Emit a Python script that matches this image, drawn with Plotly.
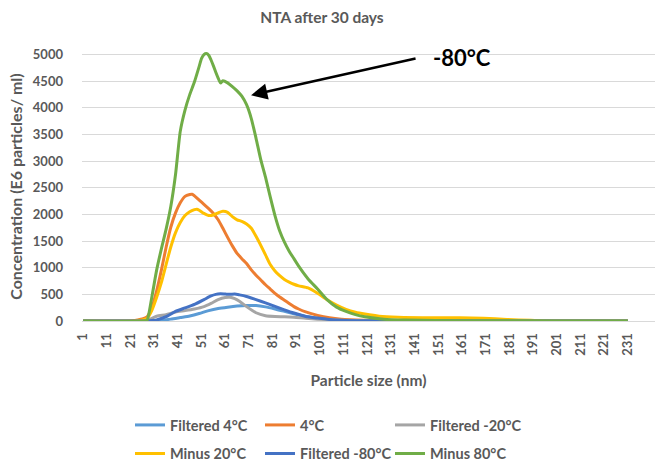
import plotly.graph_objects as go

# ---- data ----
x_tick_vals = list(range(1, 232, 10))
x_tick_text = [str(v) for v in x_tick_vals]

names = ["Filtered 4°C", "4°C", "Filtered -20°C", "Minus 20°C", "Filtered -80°C", "Minus 80°C"]
colors = ["#5B9BD5", "#ED7D31", "#A5A5A5", "#FFC000", "#4472C4", "#70AD47"]

filt4_x = [1, 27, 30, 34, 38, 42, 46, 50, 54, 58, 62, 66, 70, 74, 78, 82, 86, 90, 95, 100, 105, 110, 120, 231]
filt4_y = [0, 0, 5, 15, 35, 65, 95, 140, 195, 235, 260, 280, 290, 290, 265, 225, 180, 135, 85, 55, 35, 20, 8, 0]

c4_x = [1, 20, 22, 24, 26, 28, 30, 32, 34, 36, 38, 40, 42, 44, 46, 47, 48, 50, 52, 54, 56, 58, 60, 62, 64, 66,
        68, 70, 72, 74, 76, 78, 80, 82, 84, 86, 88, 90, 92, 95, 100, 105, 110, 120, 130, 150, 231]
c4_y = [0, 0, 5, 20, 40, 80, 250, 560, 950, 1380, 1760, 2030, 2220, 2340, 2375, 2380, 2350, 2270, 2190, 2110,
        2020, 1900, 1740, 1570, 1410, 1270, 1170, 1080, 960, 860, 770, 680, 600, 520, 450, 390, 330, 270, 225,
        170, 105, 60, 35, 15, 5, 2, 0]

filt20_x = [1, 27, 29, 32, 36, 40, 44, 48, 52, 55, 58, 61, 63, 65, 67, 70, 74, 78, 82, 86, 90, 95, 100, 110, 120, 231]
filt20_y = [0, 0, 30, 90, 120, 170, 195, 225, 270, 330, 400, 440, 445, 420, 370, 270, 155, 100, 85, 80, 70, 50, 35,
            15, 5, 0]

m20_x = [1, 22, 24, 26, 28, 30, 32, 34, 36, 38, 40, 42, 44, 46, 48, 49, 50, 52, 54, 56, 58, 60, 62, 64, 66, 68,
         70, 72, 74, 76, 78, 80, 82, 84, 86, 88, 90, 92, 96, 100, 104, 108, 112, 116, 120, 126, 134, 150, 160,
         170, 180, 190, 197, 231]
m20_y = [0, 0, 10, 20, 50, 200, 440, 720, 1060, 1390, 1660, 1850, 1980, 2050, 2090, 2100, 2080, 2020, 1980, 1990,
         2030, 2060, 2040, 1960, 1900, 1870, 1820, 1740, 1590, 1420, 1240, 1060, 940, 850, 780, 730, 690, 660,
         620, 520, 400, 300, 220, 165, 130, 90, 70, 60, 60, 50, 30, 12, 0, 0]

filt80_x = [1, 27, 29, 32, 36, 40, 44, 48, 52, 55, 57, 59, 61, 63, 65, 67, 70, 74, 78, 82, 86, 90, 95, 100, 105,
            110, 120, 231]
filt80_y = [0, 0, 5, 20, 80, 180, 245, 310, 400, 470, 500, 510, 505, 500, 505, 490, 460, 400, 340, 275, 210, 150,
            85, 55, 30, 15, 5, 0]

m80_x = [1, 27, 28, 30, 32, 34, 36, 38, 40, 42, 44, 46, 48, 50, 51, 52, 53, 54, 55, 56, 57, 58, 59, 60, 62, 64,
         66, 68, 70, 72, 74, 76, 78, 80, 82, 84, 86, 88, 90, 92, 96, 100, 104, 108, 112, 116, 120, 128, 137, 150,
         170, 200, 231]
m80_y = [0, 0, 15, 450, 950, 1350, 1720, 2150, 2750, 3560, 3960, 4250, 4490, 4780, 4930, 5000, 5020, 4990, 4900,
         4790, 4670, 4560, 4470, 4510, 4470, 4400, 4320, 4220, 4060, 3800, 3430, 3030, 2700, 2330, 1980, 1690,
         1480, 1310, 1170, 1030, 790, 600, 400, 260, 180, 120, 80, 35, 18, 8, 4, 2, 2]

series_x = [filt4_x, c4_x, filt20_x, m20_x, filt80_x, m80_x]
series_y = [filt4_y, c4_y, filt20_y, m20_y, filt80_y, m80_y]

y_tick_vals = list(range(0, 5001, 500))

arrow_label = "-80°C"
arrow_tip = (71.9, 4240)

FONT = "Lato, 'Open Sans', sans-serif"
GREY = "#595959"

W, H = 656, 470
ML, MR, MT, MB = 82, 1, 52, 149
PW, PH = W - ML - MR, H - MT - MB


def px_x(px):
    return (px - ML) / PW


def px_y(py):
    return (H - MB - py) / PH


# legend grid: 3 columns x 2 rows
leg_cols = [130, 260, 390]

fig = go.Figure()
layout_legends = {}
for i, (nm, col, xs, ys) in enumerate(zip(names, colors, series_x, series_y)):
    key = "legend" if i == 0 else f"legend{i + 1}"
    fig.add_trace(go.Scatter(
        x=xs, y=ys, name=nm, mode="lines",
        line=dict(color=col, width=3, shape="spline", smoothing=0.6),
        legend=key,
    ))
    if i < 3:
        ly, anchor = px_y(425), "middle"
    else:
        ly, anchor = px_y(469.5), "bottom"
    layout_legends[key] = dict(
        x=px_x(leg_cols[i % 3]), y=ly, xanchor="left", yanchor=anchor,
        orientation="v", font=dict(family=FONT, size=14.5, color=GREY, weight="bold"),
        itemwidth=30, bgcolor="rgba(0,0,0,0)", borderwidth=0,
    )

fig.update_layout(
    width=W, height=H,
    margin=dict(l=ML, r=MR, t=MT, b=MB),
    paper_bgcolor="white", plot_bgcolor="white",
    font=dict(family=FONT, color=GREY),
    title=dict(text="NTA after 30 days", x=322 / W, xanchor="center", y=1 - 18 / H, yanchor="middle",
               font=dict(family=FONT, size=15.5, color=GREY, weight="bold")),
    showlegend=True,
    xaxis=dict(
        range=[0.5, 242.5], tickmode="array", tickvals=x_tick_vals, ticktext=x_tick_text,
        tickangle=-90, showgrid=False, zeroline=False, showline=True, linecolor="#D9D9D9", linewidth=1,
        ticks="", tickfont=dict(family=FONT, size=13, color=GREY, weight="bold"),
        ticklabelstandoff=6,
        title=dict(text="Particle size (nm)", font=dict(family=FONT, size=15.5, color=GREY, weight="bold"),
                   standoff=20),
    ),
    yaxis=dict(
        range=[0, 5050], tickmode="array", tickvals=y_tick_vals, showgrid=True, gridcolor="#D9D9D9",
        gridwidth=1, zeroline=False, showline=False, ticks="",
        tickfont=dict(family=FONT, size=13, color=GREY, weight="bold"),
        ticklabelstandoff=18,
        title=dict(text="Concentration (E6 particles/ ml)",
                   font=dict(family=FONT, size=16, color=GREY, weight="bold"), standoff=6),
    ),
    **layout_legends,
)

fig.add_annotation(
    x=arrow_tip[0], y=arrow_tip[1], xref="x", yref="y", text="", showarrow=True,
    ax=166, ay=-37, axref="pixel", ayref="pixel",
    arrowhead=2, arrowsize=1.3, arrowwidth=2.5, arrowcolor="black", standoff=0,
)
fig.add_annotation(
    x=px_x(462), y=px_y(58), xref="paper", yref="paper", text=arrow_label,
    showarrow=False, xanchor="center", yanchor="middle",
    font=dict(family=FONT, size=22, color="black", weight="bold"),
)

fig.write_html("out.html")
